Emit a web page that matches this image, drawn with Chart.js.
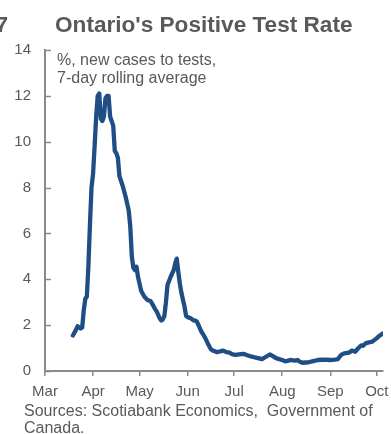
<!DOCTYPE html>
<html>
<head>
<meta charset="utf-8">
<script src="https://cdn.jsdelivr.net/npm/chart.js@4.4.1/dist/chart.umd.min.js"></script>
<style>
  html, body { margin: 0; padding: 0; background: #ffffff; }
  #wrap { width: 391px; height: 434px; position: relative; }
</style>
</head>
<body>
<div id="wrap"><canvas id="c" width="391" height="434"></canvas></div>
<script>
// Days counted from March 1 (day 0)
const days = [18,20,21,23,24,25,26,27,28,29,30,31,32,33,34,35,36,37,38,39,40,41,42,43,44,45,46,47,48,49,50,52,54,55,56,57,58,59,60,61,62,64,66,68,69,71,72,74,75,76,77,78,79,81,83,84,85,86,87,88,90,91,92,94,95,96,97,98,99,101,102,104,105,107,108,110,111,113,115,117,119,121,123,125,128,130,132,134,136,138,140,142,145,147,149,151,153,155,157,158,160,161,163,164,166,168,170,173,176,179,182,184,187,189,190,191,193,196,198,200,202,204,205,207,209,211,213,214,216,218];
const positiveRate = [1.55,1.80,1.95,1.85,1.90,2.65,3.15,3.25,4.6,6.4,8.0,8.6,9.8,11.1,12.0,12.1,11.0,10.9,11.1,11.9,12.0,12.0,11.1,10.9,10.7,9.6,9.5,9.3,8.5,8.3,8.1,7.6,7.0,6.3,5.0,4.5,4.4,4.55,4.1,3.8,3.5,3.25,3.1,3.05,2.95,2.7,2.6,2.3,2.2,2.25,2.4,3.0,3.75,4.1,4.4,4.7,4.9,4.3,3.8,3.4,2.8,2.4,2.35,2.3,2.25,2.2,2.2,2.15,2.0,1.7,1.6,1.35,1.2,0.95,0.9,0.85,0.82,0.86,0.89,0.82,0.8,0.72,0.7,0.72,0.75,0.7,0.65,0.62,0.58,0.55,0.52,0.6,0.72,0.65,0.56,0.52,0.48,0.42,0.45,0.48,0.46,0.45,0.48,0.42,0.36,0.37,0.38,0.43,0.48,0.49,0.49,0.48,0.50,0.52,0.62,0.70,0.77,0.80,0.89,0.84,0.99,1.12,1.10,1.22,1.25,1.28,1.38,1.43,1.55,1.64];
const monthStarts = [0,31,61,92,122,153,184,214];
const monthLabels = ['Mar','Apr','May','Jun','Jul','Aug','Sep','Oct'];
const yTicks = [0,2,4,6,8,10,12,14];
const titleText = "Ontario's Positive Test Rate";
const chartNumber = "7";
const noteLines = ["%, new cases to tests,", "7-day rolling average"];
const sourceLines = ["Sources: Scotiabank Economics,  Government of", "Canada."];

const TEXT = '#595959';
const AXIS = '#8a8a8a';
const FONT = "'Liberation Sans', Arial, sans-serif";

const textPlugin = {
  id: 'texts',
  afterDraw(chart) {
    const ctx = chart.ctx;
    const y = chart.scales.y;
    ctx.save();
    // inner y tick marks
    ctx.strokeStyle = AXIS;
    ctx.lineWidth = 1.5;
    yTicks.forEach(v => {
      const py = Math.round(y.getPixelForValue(v)) + 0.5;
      ctx.beginPath();
      ctx.moveTo(y.right, py);
      ctx.lineTo(y.right + 6, py);
      ctx.stroke();
    });
    ctx.fillStyle = TEXT;
    ctx.textBaseline = 'alphabetic';
    ctx.font = "bold 22.6px " + FONT;
    ctx.textAlign = 'left';
    ctx.fillText(titleText, 55, 32);
    ctx.textAlign = 'right';
    ctx.fillText(chartNumber, 8, 32);
    ctx.textAlign = 'left';
    ctx.font = "16px " + FONT;
    ctx.fillText(noteLines[0], 57, 65);
    ctx.fillText(noteLines[1], 57, 83);
    ctx.fillText(sourceLines[0], 24, 416);
    ctx.fillText(sourceLines[1], 24, 433);
    ctx.restore();
  }
};

new Chart(document.getElementById('c'), {
  type: 'line',
  data: {
    datasets: [{
      data: days.map((d, i) => ({ x: d, y: positiveRate[i] })),
      borderColor: '#1F4E84',
      borderWidth: 4.3,
      pointRadius: 0,
      tension: 0,
      borderJoinStyle: 'round',
      borderCapStyle: 'round',
      fill: false
    }]
  },
  options: {
    responsive: false,
    animation: false,
    devicePixelRatio: 1,
    layout: { padding: { top: 50, right: 8, left: 0, bottom: 0 } },
    plugins: { legend: { display: false }, title: { display: false }, tooltip: { enabled: false } },
    scales: {
      x: {
        type: 'linear',
        min: 0,
        max: 218,
        afterBuildTicks: s => { s.ticks = monthStarts.map(v => ({ value: v })); },
        afterFit: s => { s.height = 63; s.paddingLeft = 0; s.paddingRight = 0; },
        ticks: {
          autoSkip: false,
          maxRotation: 0,
          padding: 7,
          color: TEXT,
          font: { family: FONT, size: 15 },
          callback: v => monthLabels[monthStarts.indexOf(v)]
        },
        grid: { display: true, drawOnChartArea: false, drawTicks: true, tickLength: 5, color: AXIS, lineWidth: 1.5 },
        border: { display: true, color: AXIS, width: 2 }
      },
      y: {
        min: 0,
        max: 14,
        afterBuildTicks: s => { s.ticks = yTicks.map(v => ({ value: v })); },
        afterFit: s => { s.width = 45; s.paddingTop = 0; s.paddingBottom = 0; },
        ticks: {
          padding: 14,
          color: TEXT,
          font: { family: FONT, size: 15 }
        },
        grid: { display: true, drawOnChartArea: false, drawTicks: false },
        border: { display: true, color: AXIS, width: 2 }
      }
    }
  },
  plugins: [textPlugin]
});
</script>
</body>
</html>
